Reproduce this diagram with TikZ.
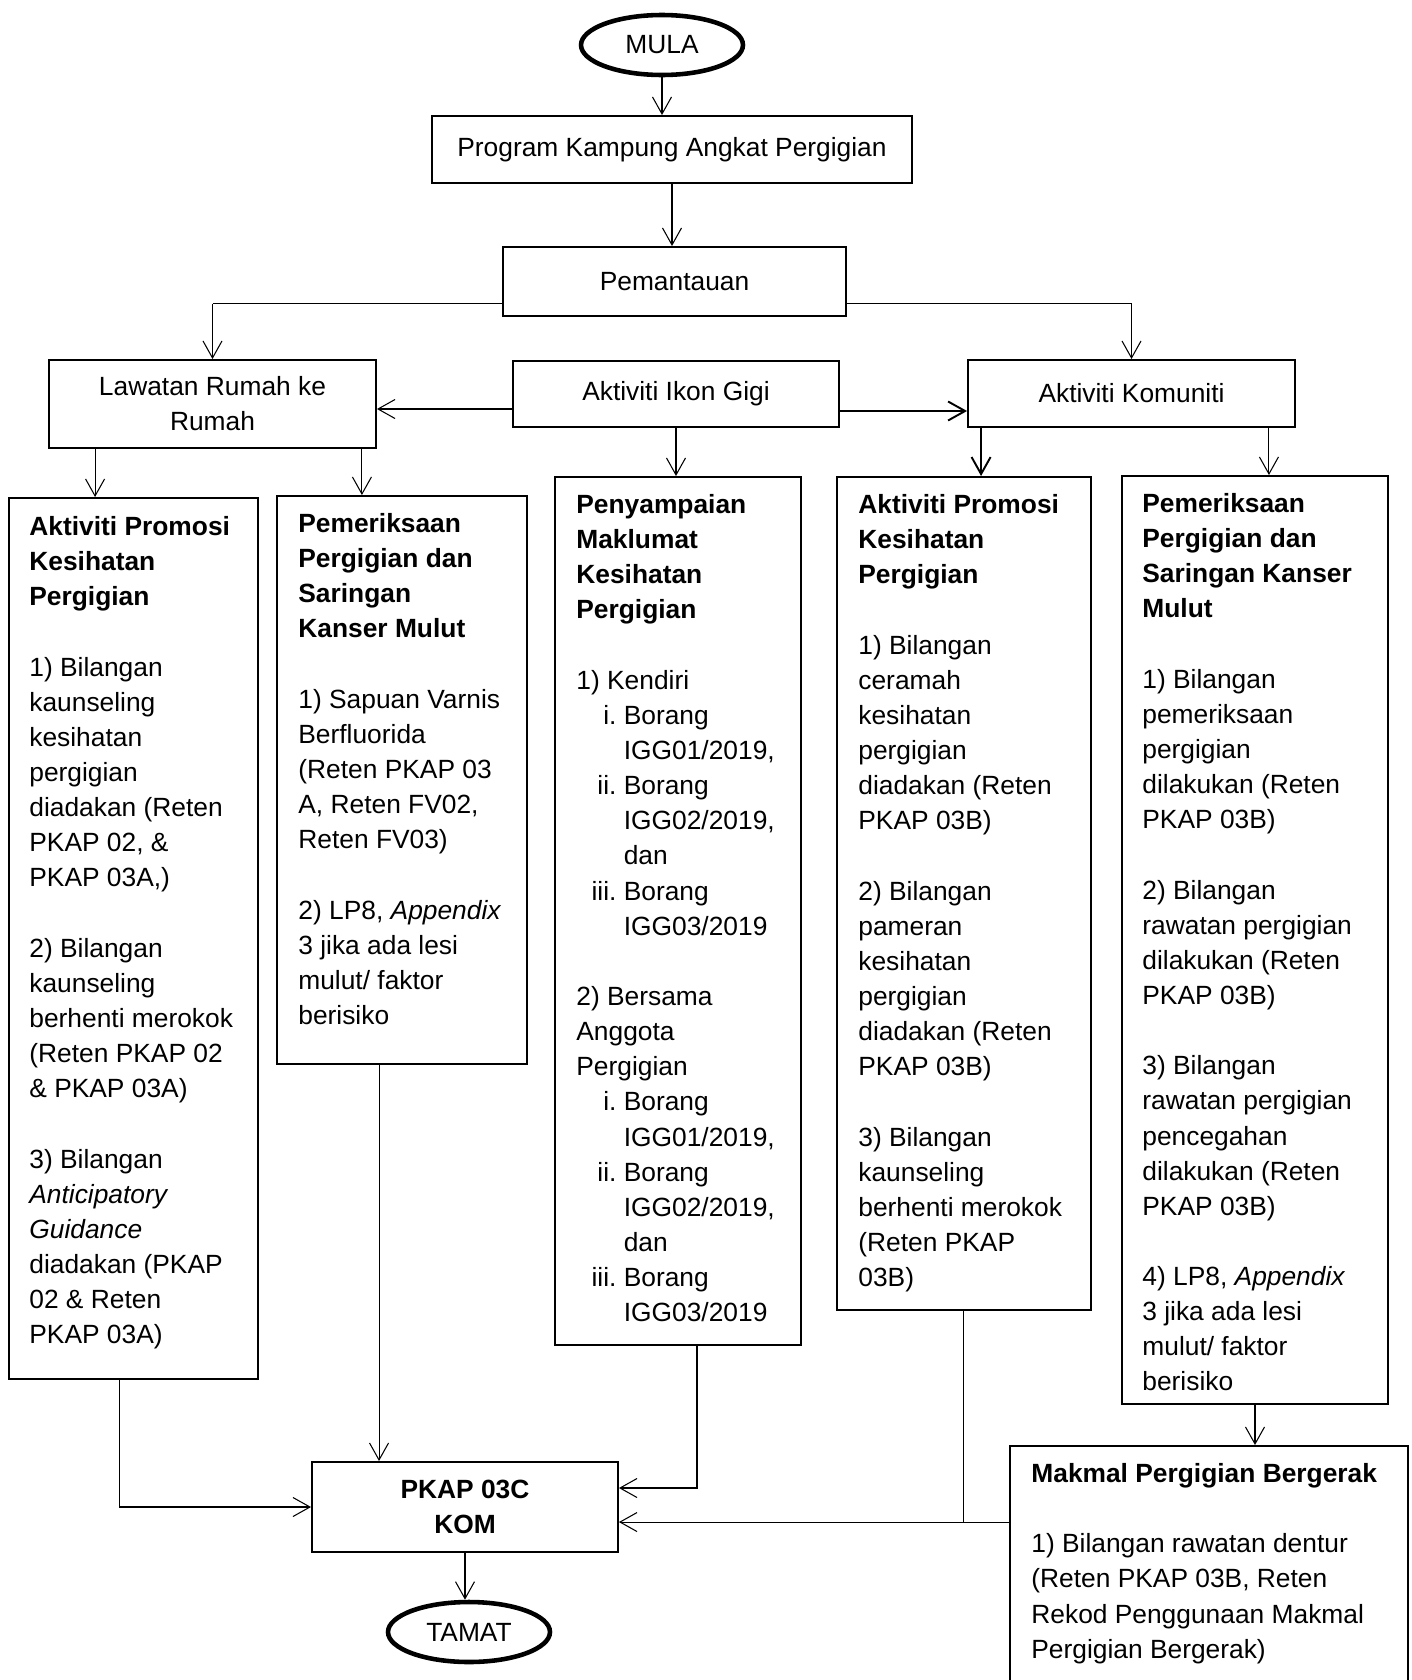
\documentclass[tikz,border=0pt]{standalone}
\usepackage{fontspec}
\setmainfont{Liberation Sans}
\usetikzlibrary{shapes.geometric,arrows.meta,calc,fit}
\newcommand\itm[1]{\makebox[27pt][r]{#1\ }}
\newcommand\ind{\hspace*{27pt}}

\begin{document}
\begin{tikzpicture}[x=0.02cm,y=-0.02cm,
    font=\fontsize{15}{20}\selectfont,
    box/.style={draw,line width=1.1pt,inner sep=0pt},
    term/.style={draw,ellipse,line width=2.6pt,minimum width=3.24cm,minimum height=1.2cm,inner sep=0pt},
    txt/.style={anchor=north west,align=left,inner sep=0pt},
    conn/.style={line width=0.6pt},
    heavy/.style={line width=1.1pt},
    arr/.style={-{Straight Barb[length=0.34cm,width=0.38cm]}}]
    \clip (0,0) rectangle (1412,1680);

    % top of the chart
    \node[term] (mula) at (662,45) {MULA};
    \node[box,minimum width=9.6cm,minimum height=1.34cm] (prog) at (672,149.5) {Program Kampung Angkat Pergigian};
    \node[box,minimum width=6.86cm,minimum height=1.38cm] (pem) at (674.5,281.5) {Pemantauan};
    \node[box,minimum width=6.54cm,minimum height=1.76cm,align=center] (lawatan) at (212.5,404) {Lawatan Rumah ke\\Rumah};
    \node[box,minimum width=6.52cm,minimum height=1.32cm] (ikon) at (676,394) {Aktiviti Ikon Gigi};
    \node[box,minimum width=6.54cm,minimum height=1.34cm] (komuniti) at (1131.5,393.5) {Aktiviti Komuniti};

    % the five columns
    \node[box,fit={(9,498) (258,1379)}] (promoA) {};
    \node[txt] (promoAtxt) at ($(promoA.north west)+(21,19)$) {\textbf{Aktiviti Promosi}\\\textbf{Kesihatan}\\\textbf{Pergigian}\\[20pt]
      1) Bilangan\\kaunseling\\kesihatan\\pergigian\\diadakan (Reten\\PKAP 02, \&\\PKAP 03A,)\\[20pt]
      2) Bilangan\\kaunseling\\berhenti merokok\\(Reten PKAP 02\\\& PKAP 03A)\\[20pt]
      3) Bilangan\\\textit{Anticipatory}\\\textit{Guidance}\\diadakan (PKAP\\02 \& Reten\\PKAP 03A)};

    \node[box,fit={(277,496) (527,1064)}] (periksaA) {};
    \node[txt] (periksaAtxt) at ($(periksaA.north west)+(22,18)$) {\textbf{Pemeriksaan}\\\textbf{Pergigian dan}\\\textbf{Saringan}\\\textbf{Kanser Mulut}\\[20pt]
      1) Sapuan Varnis\\Berfluorida\\(Reten PKAP 03\\A, Reten FV02,\\Reten FV03)\\[20pt]
      2) LP8, \textit{Appendix}\\3 jika ada lesi\\mulut/ faktor\\berisiko};

    \node[box,fit={(555,477) (801,1345)}] (sampai) {};
    \node[txt] (sampaitxt) at ($(sampai.north west)+(22,18)$) {\textbf{Penyampaian}\\\textbf{Maklumat}\\\textbf{Kesihatan}\\\textbf{Pergigian}\\[20pt]
      1) Kendiri\\\itm{i.}Borang\\\ind IGG01/2019,\\\itm{ii.}Borang\\\ind IGG02/2019,\\\ind dan\\\itm{iii.}Borang\\\ind IGG03/2019\\[20pt]
      2) Bersama\\Anggota\\Pergigian\\\itm{i.}Borang\\\ind IGG01/2019,\\\itm{ii.}Borang\\\ind IGG02/2019,\\\ind dan\\\itm{iii.}Borang\\\ind IGG03/2019};

    \node[box,fit={(837,477) (1091,1310)}] (promoB) {};
    \node[txt] (promoBtxt) at ($(promoB.north west)+(22,18)$) {\textbf{Aktiviti Promosi}\\\textbf{Kesihatan}\\\textbf{Pergigian}\\[20pt]
      1) Bilangan\\ceramah\\kesihatan\\pergigian\\diadakan (Reten\\PKAP 03B)\\[20pt]
      2) Bilangan\\pameran\\kesihatan\\pergigian\\diadakan (Reten\\PKAP 03B)\\[20pt]
      3) Bilangan\\kaunseling\\berhenti merokok\\(Reten PKAP\\03B)};

    \node[box,fit={(1122,476) (1388,1404)}] (periksaB) {};
    \node[txt] (periksaBtxt) at ($(periksaB.north west)+(21,18)$) {\textbf{Pemeriksaan}\\\textbf{Pergigian dan}\\\textbf{Saringan Kanser}\\\textbf{Mulut}\\[20pt]
      1) Bilangan\\pemeriksaan\\pergigian\\dilakukan (Reten\\PKAP 03B)\\[20pt]
      2) Bilangan\\rawatan pergigian\\dilakukan (Reten\\PKAP 03B)\\[20pt]
      3) Bilangan\\rawatan pergigian\\pencegahan\\dilakukan (Reten\\PKAP 03B)\\[20pt]
      4) LP8, \textit{Appendix}\\3 jika ada lesi\\mulut/ faktor\\berisiko};

    % bottom of the chart
    \node[box,minimum width=6.12cm,minimum height=1.8cm,align=center,font=\fontsize{15}{20}\selectfont\bfseries] (pkap) at (465,1507) {PKAP 03C\\KOM};
    \node[term] (tamat) at (469,1632) {TAMAT};
    \node[box,fit={(1010,1446) (1408,1720)}] (makmal) {};
    \node[txt] (makmaltxt) at ($(makmal.north west)+(22,18)$) {\textbf{Makmal Pergigian Bergerak}\\[20pt]
      1) Bilangan rawatan dentur\\(Reten PKAP 03B, Reten\\Rekod Penggunaan Makmal\\Pergigian Bergerak)};

    % connectors
    \draw[conn,arr] (mula.south) -- (mula.south |- prog.north);
    \draw[conn,arr] (prog.south) -- (prog.south |- pem.north);
    \coordinate (pemL) at ($(pem.west)+(0,22)$);
    \coordinate (pemR) at ($(pem.east)+(0,22)$);
    \draw[heavy] (pemL) -- (pemL -| lawatan.north);
    \draw[conn,arr] (pemL -| lawatan.north) -- (lawatan.north);
    \draw[conn,arr] (pemR) -| (komuniti.north);
    \coordinate (ikonL) at ($(ikon.west)+(0,15)$);
    \coordinate (ikonR) at ($(ikon.east)+(0,17)$);
    \draw[conn,arr] (ikonL) -- (ikonL -| lawatan.east);
    \draw[heavy,arr] (ikonR) -- (ikonR -| komuniti.west);

    \coordinate (lawA) at ($(lawatan.south west)+(47,0)$);
    \coordinate (lawB) at ($(lawatan.south east)+(-15,0)$);
    \draw[conn,arr] (lawA) -- (lawA |- promoA.north);
    \draw[conn,arr] (lawB) -- (lawB |- periksaA.north);
    \draw[conn,arr] (ikon.south) -- (ikon.south |- sampai.north);
    \coordinate (komA) at ($(komuniti.south west)+(14,0)$);
    \coordinate (komB) at ($(komuniti.south east)+(-27,0)$);
    \draw[heavy,arr] (komA) -- (komA |- promoB.north);
    \draw[conn,arr] (komB) -- (komB |- periksaB.north);

    \draw[conn,arr] ($(promoA.south west)+(111,0)$) |- (pkap.west);
    \coordinate (perA) at ($(periksaA.south west)+(103,0)$);
    \draw[conn,arr] (perA) -- (perA |- pkap.north);
    \draw[conn,arr] ($(sampai.south east)+(-105,0)$) |- ($(pkap.east)+(0,-19)$);
    \coordinate (makL) at ($(makmal.north west)+(0,77)$);
    \draw[conn,arr] (makL) -- (makL -| pkap.east);
    \coordinate (proB) at ($(promoB.south west)+(127,0)$);
    \draw[conn] (proB) -- (proB |- makL);
    \draw[conn,arr] (periksaB.south) -- (periksaB.south |- makmal.north);
    \draw[conn,arr] (pkap.south) -- (pkap.south |- tamat.north);
\end{tikzpicture}
\end{document}
